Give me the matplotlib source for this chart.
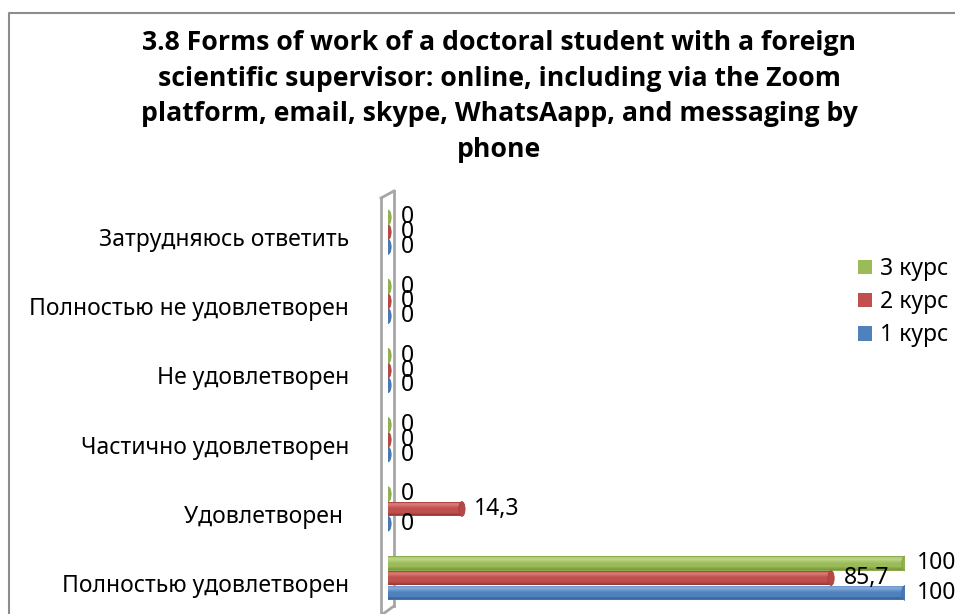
import matplotlib.pyplot as plt
from matplotlib.patches import Ellipse, Patch
from matplotlib.lines import Line2D
import numpy as np

plt.rcParams['font.family'] = ['Noto Sans', 'DejaVu Sans']

# data (bottom category first)
categories = ['Полностью удовлетворен', 'Удовлетворен ', 'Частично удовлетворен',
              'Не удовлетворен', 'Полностью не удовлетворен', 'Затрудняюсь ответить']
kurs1 = [100, 0, 0, 0, 0, 0]
kurs2 = [85.7, 14.3, 0, 0, 0, 0]
kurs3 = [100, 0, 0, 0, 0, 0]
series_names = ['1 курс', '2 курс', '3 курс']
title = ('3.8 Forms of work of a doctoral student with a foreign\n'
         'scientific supervisor: online, including via the Zoom\n'
         'platform, email, skype, WhatsAapp, and messaging by\n'
         'phone')

# colours: base, light, dark
colors = [('#4F81BD', '#86ABDB', '#2F5A90'),
          ('#C0504D', '#DA7E7B', '#8A2E2C'),
          ('#9BBB59', '#BDD585', '#6C8833')]

W, H = 955, 614
fig = plt.figure(figsize=(W / 100, H / 100), dpi=100)


def fx(px):
    return px / W


def fy(py):
    return 1 - py / H


ax = fig.add_axes([fx(388), 0, fx(905) - fx(388), fy(200)])
ax.set_xlim(0, 100)
ax.set_ylim(-0.448, 5.535)
ax.patch.set_visible(False)
for s in ax.spines.values():
    s.set_visible(False)
ax.set_xticks([])
ax.set_yticks(range(len(categories)))
ax.set_yticklabels(categories, fontsize=16.5)
ax.tick_params(axis='y', length=0, pad=28)


def mix(c1, c2, t):
    a = np.array(plt.matplotlib.colors.to_rgb(c1))
    b = np.array(plt.matplotlib.colors.to_rgb(c2))
    return tuple(a + (b - a) * t)


def cylinder(y, val, h, cols):
    base, light, dark = cols
    if val > 0:
        ax.barh(y, val, height=h, color=mix(base, dark, 0.3), linewidth=0, zorder=2.9)
    n = 16
    edges = np.linspace(y - h / 2, y + h / 2, n + 1)
    for k in range(1, n - 1):
        t = (k + 0.5) / n  # 0 bottom, 1 top
        if t < 0.55:
            c = mix(dark, base, min(1, t / 0.3))
        elif t < 0.8:
            c = mix(base, light, (t - 0.55) / 0.25)
        else:
            c = mix(light, base, (t - 0.8) / 0.2 * 0.7)
        if val > 0:
            ax.barh((edges[k] + edges[k + 1]) / 2, val, height=edges[k + 1] - edges[k],
                    color=c, linewidth=0, zorder=3)
    cap_w = 1.2 if val > 0 else 1.2
    ax.add_patch(Ellipse((val, y), cap_w, h, facecolor=mix(base, dark, 0.2),
                         edgecolor=mix(base, dark, 0.5), linewidth=0.6, zorder=4))


dy = 0.213
bh = 0.212
off = 0.07
pos = np.arange(len(categories))
for i, vals in enumerate([kurs1, kurs2, kurs3]):
    for c, v in zip(pos, vals):
        y = c + off + (i - 1) * dy
        cylinder(y, v, bh, colors[i])
        lab = ('%g' % v).replace('.', ',')
        ax.text(v + 2.4, y, lab, fontsize=16.5, va='center', ha='left', zorder=5)

# wall
wall = dict(color='#A6A6A6', lw=2, transform=fig.transFigure, clip_on=False, zorder=1)
ax.add_line(Line2D([fx(381), fx(381)], [fy(198), fy(614)], **wall))
ax.add_line(Line2D([fx(394), fx(394)], [fy(191), fy(606)], **wall))
ax.add_line(Line2D([fx(381), fx(394)], [fy(198), fy(191)], **wall))
ax.add_line(Line2D([fx(383), fx(394)], [fy(614), fy(606)], **wall))

# chart border
fig.add_artist(Line2D([fx(9), fx(9), fx(956)], [fy(615), fy(13), fy(13)],
                      color='#8C8C8C', lw=1.5))

fig.text(fx(499), fy(30), title, ha='center', va='top', fontsize=19.2,
         fontweight='bold', family=['Open Sans', 'DejaVu Sans'], linespacing=1.48)

handles = [Patch(facecolor=colors[i][0], edgecolor='none') for i in (2, 1, 0)]
fig.legend(handles, [series_names[i] for i in (2, 1, 0)], loc='upper left',
           bbox_to_anchor=(fx(858), fy(257)), frameon=False, fontsize=16.5,
           handlelength=0.6, handleheight=0.6, handletextpad=0.35, labelspacing=0.4,
           borderaxespad=0, borderpad=0)

fig.savefig('out.png', dpi=100)
